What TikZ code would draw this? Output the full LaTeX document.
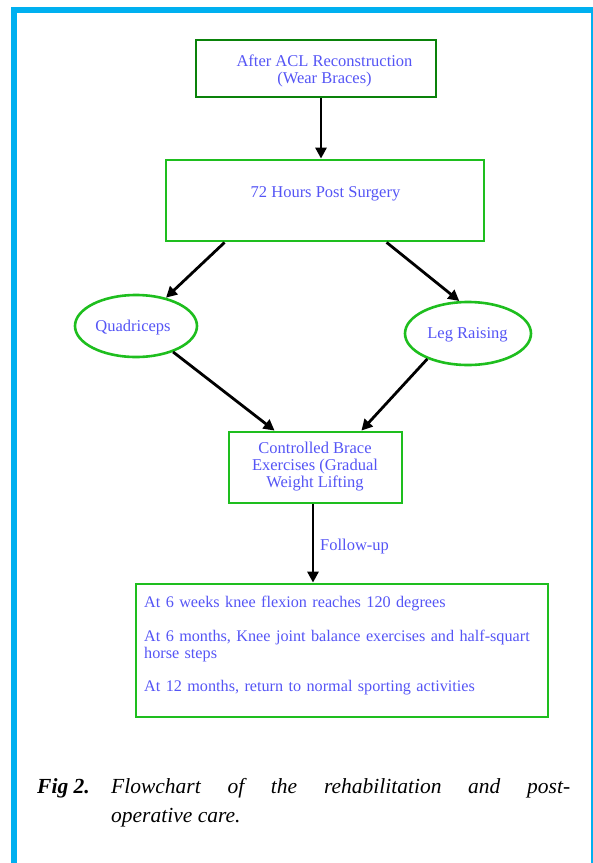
\documentclass[tikz,border=0pt]{standalone}
\usepackage{fontspec}
\setmainfont{Liberation Serif}
\usetikzlibrary{shapes.geometric,arrows.meta,calc}
\definecolor{framecyan}{RGB}{0,176,240}
\definecolor{txtblue}{RGB}{85,85,245}
\definecolor{darkgrn}{RGB}{10,130,10}
\definecolor{brightgrn}{RGB}{30,190,30}
\begin{document}
\begin{tikzpicture}[x=1pt,y=-1pt,
  boxtext/.style={text=txtblue,font=\fontsize{16.5}{17}\selectfont,inner sep=0pt},
  greenbox/.style={draw=brightgrn,line width=2.8pt,inner sep=0pt},
  greenell/.style={ellipse,draw=brightgrn,line width=2.6pt,inner sep=0pt},
  arr/.style={line width=2.8pt,-{Triangle[length=11pt,width=11pt]}}]
\useasboundingbox (0,0) rectangle (593,863);
% frame
\fill[framecyan] (11,7) rectangle (593,13);
\fill[framecyan] (11,7) rectangle (17,863);
\fill[framecyan] (591,7) rectangle (593,863);
% boxes
\node[greenbox,draw=darkgrn,line width=2.5pt,minimum width=240pt,minimum height=57pt] (b1) at (316,68.5) {};
\node[boxtext,align=center] (t1) at (324.5,71) {After ACL Reconstruction\\(Wear Braces)};
\node[greenbox,minimum width=318pt,minimum height=81pt] (b2) at (325,200.5) {};
\node[boxtext] (t2) at (325.5,193.5) {72 Hours Post Surgery};
\node[greenell,minimum width=122pt,minimum height=62pt] (q) at (136,326) {};
\node[boxtext] (tq) at (133,328) {Quadriceps};
\node[greenell,minimum width=126pt,minimum height=63pt] (lr) at (468,333.5) {};
\node[boxtext] (tlr) at (467.5,335) {Leg Raising};
\node[greenbox,minimum width=173pt,minimum height=71pt] (b3) at (315.5,467.5) {};
\node[boxtext,align=center] (t3) at (315,466.5) {Controlled Brace\\Exercises (Gradual\\Weight Lifting};
\node[greenbox,minimum width=412pt,minimum height=133pt] (b4) at (342,650.5) {};
\node[boxtext,anchor=north west,text width=400pt,align=left,font=\fontsize{16.2}{17}\selectfont] (t4) at (144,596)
  {\setlength{\parskip}{16.5pt}At 6 weeks knee flexion reaches 120 degrees\par
   At 6 months, Knee joint balance exercises and half-squart\\horse steps\par
   At 12 months, return to normal sporting activities\par};
\node[boxtext,anchor=west] (fu) at (320,547) {Follow-up};
% connectors
\draw[arr] ([xshift=5pt]b1.south) -- ([xshift=-4pt]b2.north);
\draw[arr] ($(b2.south west)+(60,0)$) -- (q);
\draw[arr] ($(b2.south west)+(222,0)$) -- (lr.105);
\draw[arr] (q.-35) -- ($(b3.north west)+(47,0)$);
\draw[arr] (lr.212) -- ($(b3.north east)+(-42,0)$);
\draw[arr] ([xshift=-2.5pt]b3.south) -- ([xshift=-2.5pt]b3.south |- b4.north);
% caption
\node[anchor=north west,inner sep=0pt,text width=533pt,align=justify,
  font=\fontsize{21.5}{29}\selectfont] (cap) at (37,778)
  {\hangindent=74pt\hangafter=1\makebox[74pt][l]{\textbf{\textit{Fig 2.}}}\textit{Flowchart of the rehabilitation and post-}\linebreak\textit{operative care.}\par};
\end{tikzpicture}
\end{document}
